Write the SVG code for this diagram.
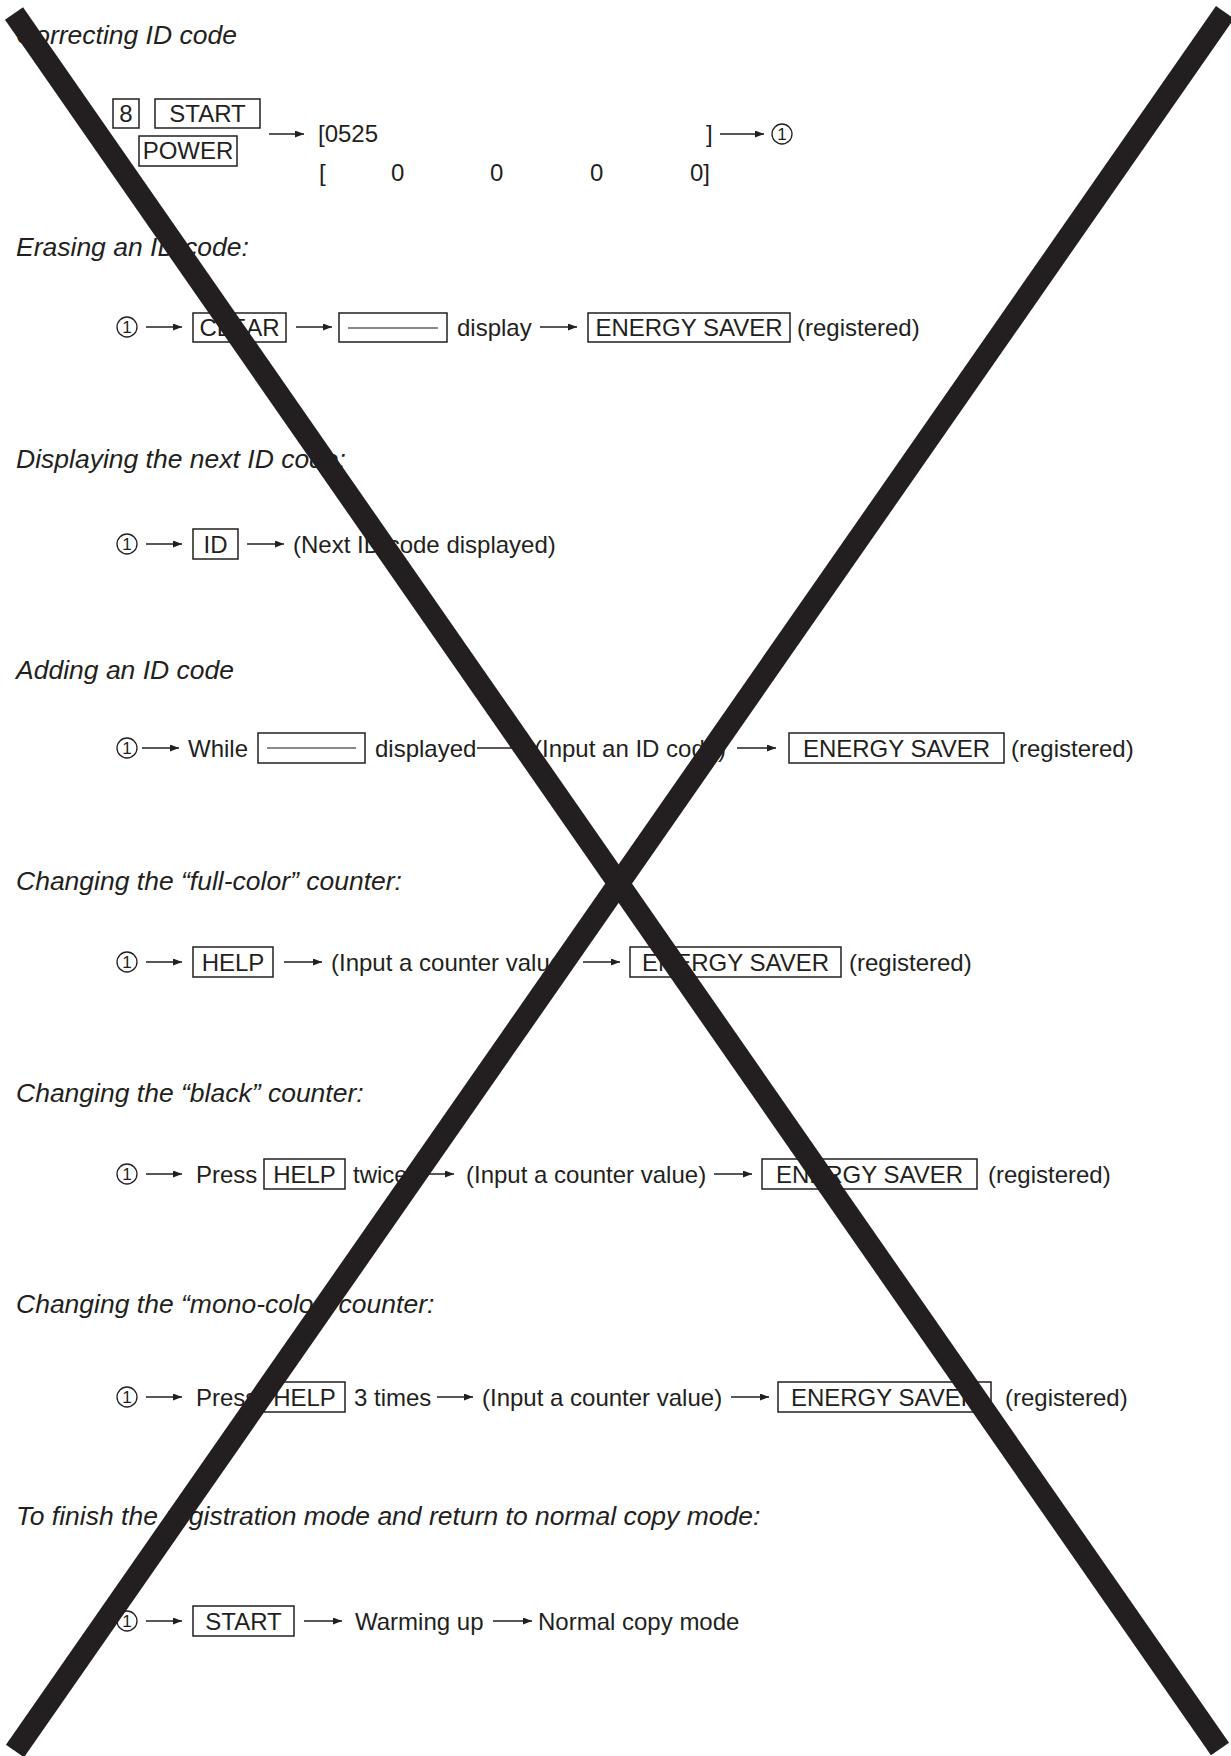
<svg xmlns="http://www.w3.org/2000/svg" width="1231" height="1756" viewBox="0 0 1231 1756">
<style>
.t{font-family:"Liberation Sans",Arial,sans-serif;font-style:italic;font-size:26.5px;fill:#231f20}
.b{font-family:"Liberation Sans",Arial,sans-serif;font-size:24px;fill:#231f20}
.m{text-anchor:middle}
.k{fill:none;stroke:#231f20;stroke-width:1.5}
.g{stroke:#8a8a8a;stroke-width:2}
.a{stroke:#231f20;stroke-width:1.3;fill:none;marker-end:url(#ah)}
.c{fill:none;stroke:#231f20;stroke-width:1.3}
.cn{font-family:"Liberation Sans",Arial,sans-serif;font-size:17px;fill:#231f20;text-anchor:middle}
.x{stroke:#231f20;stroke-width:22;stroke-linecap:butt}
</style>
<defs>
<marker id="ah" markerUnits="userSpaceOnUse" markerWidth="9" markerHeight="7" refX="9" refY="3.5" orient="auto">
<path d="M0,0 L9,3.5 L0,7 z" fill="#231f20"/>
</marker>
</defs>
<rect width="1231" height="1756" fill="#fff"/>

<g id="titles">
<text class="t" x="16" y="44">Correcting ID code</text>
<text class="t" x="16" y="256">Erasing an ID code:</text>
<text class="t" x="16" y="468">Displaying the next ID code:</text>
<text class="t" x="16" y="679">Adding an ID code</text>
<text class="t" x="16" y="890">Changing the “full-color” counter:</text>
<text class="t" x="16" y="1102">Changing the “black” counter:</text>
<text class="t" x="16" y="1313">Changing the “mono-color” counter:</text>
<text class="t" x="16" y="1525">To finish the registration mode and return to normal copy mode:</text>
</g>

<!-- Section 1 -->
<g id="s1-key8"><rect class="k" x="113" y="99" width="26" height="29"/><text class="b m" x="126" y="122">8</text></g>
<g id="s1-start"><rect class="k" x="155" y="99" width="105" height="29"/><text class="b m" x="207.5" y="122">START</text></g>
<g id="s1-power"><rect class="k" x="139" y="136" width="98" height="30"/><text class="b m" x="188" y="159">POWER</text></g>
<g id="s1-code">
<text class="b" x="318" y="142">[0525</text>
<text class="b" x="706" y="142">]</text>
<text class="b" x="319" y="181">[</text>
<text class="b" x="391" y="181">0</text>
<text class="b" x="490" y="181">0</text>
<text class="b" x="590" y="181">0</text>
<text class="b" x="690" y="181">0]</text>
</g>
<g id="s1-c1"><circle class="c" cx="782" cy="134" r="10"/><text class="cn" x="782" y="140">1</text></g>

<!-- Section 2 -->
<g id="s2-c1"><circle class="c" cx="127" cy="327" r="10"/><text class="cn" x="127" y="333">1</text></g>
<g id="s2-clear"><rect class="k" x="193" y="313" width="93" height="29"/><text class="b m" x="239.5" y="335.5">CLEAR</text></g>
<g id="s2-blank"><rect class="k" x="339" y="313" width="108" height="29"/><line class="g" x1="348" y1="328" x2="438" y2="328"/></g>
<g id="s2-display"><text class="b" x="457" y="335.5">display</text></g>
<g id="s2-es"><rect class="k" x="588" y="313" width="202" height="29"/><text class="b m" x="689" y="335.5">ENERGY SAVER</text></g>
<g id="s2-reg"><text class="b" x="797" y="335.5">(registered)</text></g>

<!-- Section 3 -->
<g id="s3-c1"><circle class="c" cx="127" cy="544" r="10"/><text class="cn" x="127" y="550">1</text></g>
<g id="s3-id"><rect class="k" x="193" y="529" width="45" height="30"/><text class="b m" x="215.5" y="552.5">ID</text></g>
<g id="s3-next"><text class="b" x="293" y="552.5">(Next ID code displayed)</text></g>

<!-- Section 4 -->
<g id="s4-c1"><circle class="c" cx="127" cy="748" r="10"/><text class="cn" x="127" y="754">1</text></g>
<g id="s4-while"><text class="b" x="188" y="756.5">While</text></g>
<g id="s4-blank"><rect class="k" x="258" y="733" width="107" height="30"/><line class="g" x1="267" y1="748" x2="356" y2="748"/></g>
<g id="s4-displayed"><text class="b" x="375" y="756.5">displayed</text></g>
<g id="s4-input"><text class="b" x="534" y="756.5">(Input an ID code)</text></g>
<g id="s4-es"><rect class="k" x="789" y="733" width="215" height="30"/><text class="b m" x="896.5" y="756.5">ENERGY SAVER</text></g>
<g id="s4-reg"><text class="b" x="1011" y="756.5">(registered)</text></g>

<!-- Section 5 -->
<g id="s5-c1"><circle class="c" cx="127" cy="962" r="10"/><text class="cn" x="127" y="968">1</text></g>
<g id="s5-help"><rect class="k" x="193" y="947" width="80" height="30"/><text class="b m" x="233" y="970.5">HELP</text></g>
<g id="s5-input"><text class="b" x="331" y="970.5">(Input a counter value)</text></g>
<g id="s5-es"><rect class="k" x="630" y="947" width="211" height="30"/><text class="b m" x="735.5" y="970.5">ENERGY SAVER</text></g>
<g id="s5-reg"><text class="b" x="849" y="970.5">(registered)</text></g>

<!-- Section 6 -->
<g id="s6-c1"><circle class="c" cx="127" cy="1174" r="10"/><text class="cn" x="127" y="1180">1</text></g>
<g id="s6-press"><text class="b" x="196" y="1182.5">Press</text></g>
<g id="s6-help"><rect class="k" x="264" y="1159" width="81" height="30"/><text class="b m" x="304.5" y="1182.5">HELP</text></g>
<g id="s6-twice"><text class="b" x="353" y="1182.5">twice</text></g>
<g id="s6-input"><text class="b" x="466" y="1182.5">(Input a counter value)</text></g>
<g id="s6-es"><rect class="k" x="762" y="1159" width="215" height="30"/><text class="b m" x="869.5" y="1182.5">ENERGY SAVER</text></g>
<g id="s6-reg"><text class="b" x="988" y="1182.5">(registered)</text></g>

<!-- Section 7 -->
<g id="s7-c1"><circle class="c" cx="127" cy="1397" r="10"/><text class="cn" x="127" y="1403">1</text></g>
<g id="s7-press"><text class="b" x="196" y="1405.5">Press</text></g>
<g id="s7-help"><rect class="k" x="264" y="1382" width="81" height="30"/><text class="b m" x="304.5" y="1405.5">HELP</text></g>
<g id="s7-times"><text class="b" x="354" y="1405.5">3 times</text></g>
<g id="s7-input"><text class="b" x="482" y="1405.5">(Input a counter value)</text></g>
<g id="s7-es"><rect class="k" x="778" y="1382" width="213" height="30"/><text class="b m" x="884.5" y="1405.5">ENERGY SAVER</text></g>
<g id="s7-reg"><text class="b" x="1005" y="1405.5">(registered)</text></g>

<!-- Section 8 -->
<g id="s8-c1"><circle class="c" cx="127" cy="1621" r="10"/><text class="cn" x="127" y="1627">1</text></g>
<g id="s8-start"><rect class="k" x="193" y="1606" width="101" height="30"/><text class="b m" x="243.5" y="1629.5">START</text></g>
<g id="s8-warm"><text class="b" x="355" y="1629.5">Warming up</text></g>
<g id="s8-normal"><text class="b" x="538" y="1629.5">Normal copy mode</text></g>

<g id="connectors">
<line class="a" x1="269" y1="134" x2="304" y2="134"/>
<line class="a" x1="720" y1="134" x2="764" y2="134"/>
<line class="a" x1="146" y1="327" x2="182" y2="327"/>
<line class="a" x1="296" y1="327" x2="332" y2="327"/>
<line class="a" x1="540" y1="327" x2="577" y2="327"/>
<line class="a" x1="146" y1="544" x2="182" y2="544"/>
<line class="a" x1="247" y1="544" x2="284" y2="544"/>
<line class="a" x1="142" y1="748" x2="179" y2="748"/>
<line class="a" x1="477" y1="748" x2="522" y2="748"/>
<line class="a" x1="737" y1="748" x2="776" y2="748"/>
<line class="a" x1="146" y1="962" x2="182" y2="962"/>
<line class="a" x1="284" y1="962" x2="322" y2="962"/>
<line class="a" x1="583" y1="962" x2="620" y2="962"/>
<line class="a" x1="146" y1="1174" x2="182" y2="1174"/>
<line class="a" x1="415" y1="1174" x2="454" y2="1174"/>
<line class="a" x1="714" y1="1174" x2="752" y2="1174"/>
<line class="a" x1="146" y1="1397" x2="182" y2="1397"/>
<line class="a" x1="437" y1="1397" x2="473" y2="1397"/>
<line class="a" x1="731" y1="1397" x2="769" y2="1397"/>
<line class="a" x1="146" y1="1621" x2="182" y2="1621"/>
<line class="a" x1="304" y1="1621" x2="342" y2="1621"/>
<line class="a" x1="493" y1="1621" x2="532" y2="1621"/>
</g>

<g id="cross">
<line class="x" x1="14" y1="13.5" x2="1220" y2="1749"/>
<line class="x" x1="1225" y1="12.3" x2="15" y2="1751"/>
</g>
</svg>
